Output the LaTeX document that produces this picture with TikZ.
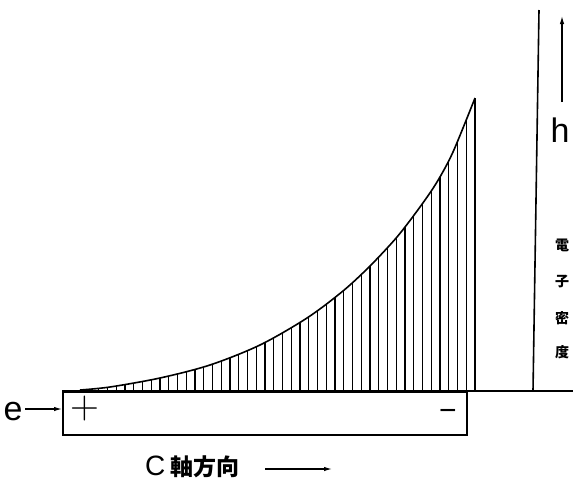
\documentclass[tikz,border=0pt]{standalone}
\usepackage{fontspec}
\setmainfont{Liberation Sans}
\newfontfamily\cjk{Noto Sans CJK JP}
\newfontfamily\lmfont{Latin Modern Roman}
\usetikzlibrary{arrows.meta}
\tikzset{
  ln/.style={line width=1.6pt},
  hatch/.style={line width=1.1pt},
  arr/.style={line width=1.2pt,-{Latex[length=8pt,width=4.5pt]}},
  big/.style={font=\fontsize{34}{34}\selectfont, inner sep=0pt},
  cj/.style={font=\cjk\bfseries\fontsize{14}{14}\selectfont, inner sep=0pt},
}
\def\curvepts{(80,390) (110,387) (160,378) (210,365) (260,345) (307,318) (343,291) (370,266) (397,237) (420,207) (437,182) (453,152) (475,98)}
\begin{document}
\begin{tikzpicture}[x=1pt,y=-1pt]
\useasboundingbox (0,0) rectangle (573,491);
% hatching
\begin{scope}
  \clip plot[smooth] coordinates {\curvepts} -- (475,392) -- (80,392) -- cycle;
  \foreach \i in {0,...,44} {
    \draw[hatch] ({475-8.75*\i},80) -- ({475-8.75*\i},392);
  }
\end{scope}
% curve
\draw[ln] plot[smooth] coordinates {\curvepts};
\draw[ln] (475,98) -- (475,392);
% baseline
\draw[ln] (62,391) -- (573,391);
% box
\node[draw,ln,anchor=north west,minimum width=404pt,minimum height=43pt,inner sep=0pt] (box) at (62,391) {};
\node[inner sep=0pt,font=\lmfont\fontsize{40}{40}\selectfont] (plus) at (85,409) {+};
\node[big,font=\fontsize{30}{30}\selectfont] (minus) at (448,415) {\textminus};
% e
\node[big,anchor=base] (e) at (13,420) {e};
\coordinate (eend) at (25,409);
\draw[arr] (eend) -- (box.west |- eend);
% vertical axis
\coordinate (vt) at (539,10);
\coordinate (vb) at (533,391);
\draw[ln] (vt) -- (vb);
\coordinate (ha) at (562,102);
\coordinate (hb) at (562,16);
\draw[arr] (ha) -- (hb);
\node[big,anchor=base] (h) at (560,142) {h};
\node[cj] (c1) at (562,245) {電};
\node[cj] (c2) at (562,282) {子};
\node[cj] (c3) at (562,318) {密};
\node[cj] (c4) at (562,352) {度};
% C axis label
\node[anchor=west,inner sep=0pt] (cax) at (145,467) {\fontsize{28}{28}\selectfont C\,\cjk\bfseries\fontsize{23}{23}\selectfont 軸方向};
\coordinate (ca) at (265,469);
\coordinate (cb) at (332,469);
\draw[arr] (ca) -- (cb);
\end{tikzpicture}
\end{document}
